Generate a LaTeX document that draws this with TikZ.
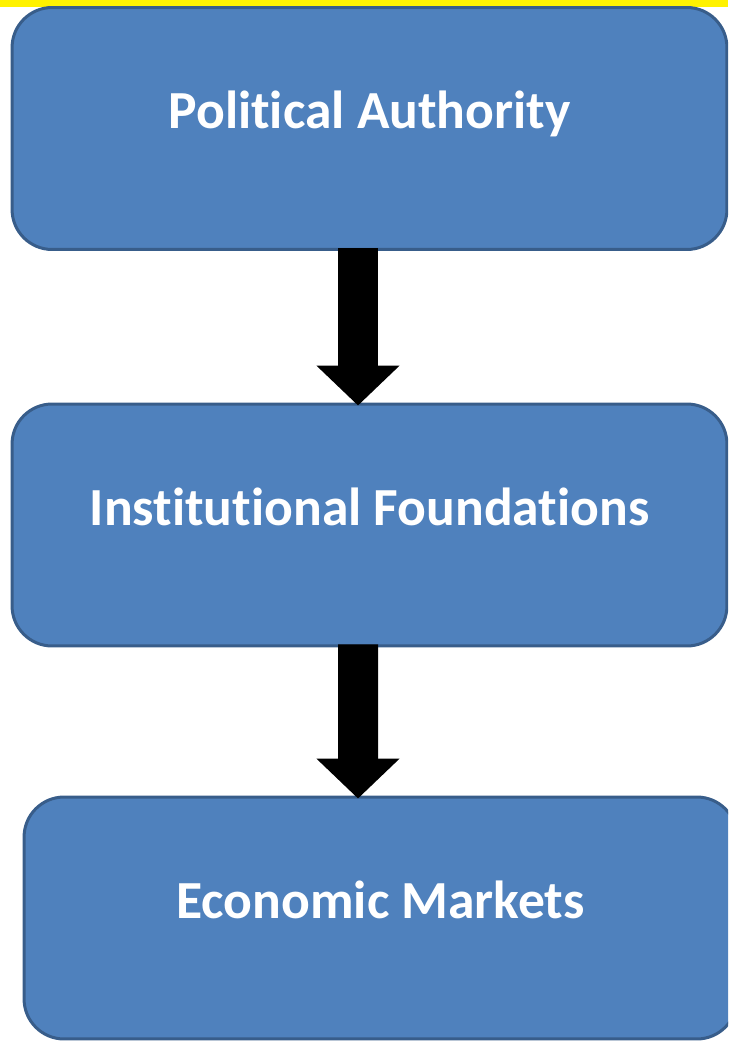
\documentclass[tikz,border=0pt]{standalone}
\usepackage{fontspec}
\setmainfont{Carlito}[Ligatures={NoCommon}]
\usetikzlibrary{arrows.meta}
\definecolor{boxfill}{HTML}{4F81BD}
\definecolor{boxline}{HTML}{385D8A}
\tikzset{
    stagebox/.style={draw=boxline, fill=boxfill, line width=0.06cm, rounded corners=0.8cm,
        minimum height=4.84cm, text=white, font=\fontsize{30.5}{36}\selectfont\bfseries,
        text height=0pt, text depth=0pt},
    flowarrow/.style={black, line width=0.8cm, -{Triangle[width=1.62cm, length=0.8cm]}}
}
\begin{document}
\begin{tikzpicture}[x=0.02cm, y=-0.02cm]
            \useasboundingbox (0, 0) rectangle (728, 1041);
            \clip (0, 0) rectangle (728, 1041);
            \fill[yellow] (0, 0) rectangle (728, 7);
            \node[stagebox, minimum width=14.3cm] (authority) at (369.5, 128.5) {Political Authority};
            \node[stagebox, minimum width=14.3cm] (foundations) at (369.5, 525) {Institutional Foundations};
            \node[stagebox, minimum width=14.26cm] (markets) at (380.5, 918) {Economic Markets};
            \draw[flowarrow] ([xshift=-0.23cm, yshift=0.06cm]authority.south) -- ([xshift=-0.23cm, yshift=-0.06cm]foundations.north);
            \draw[flowarrow] ([xshift=-0.23cm, yshift=0.06cm]foundations.south) -- ([xshift=-0.45cm, yshift=-0.06cm]markets.north);
        \end{tikzpicture}
\end{document}
